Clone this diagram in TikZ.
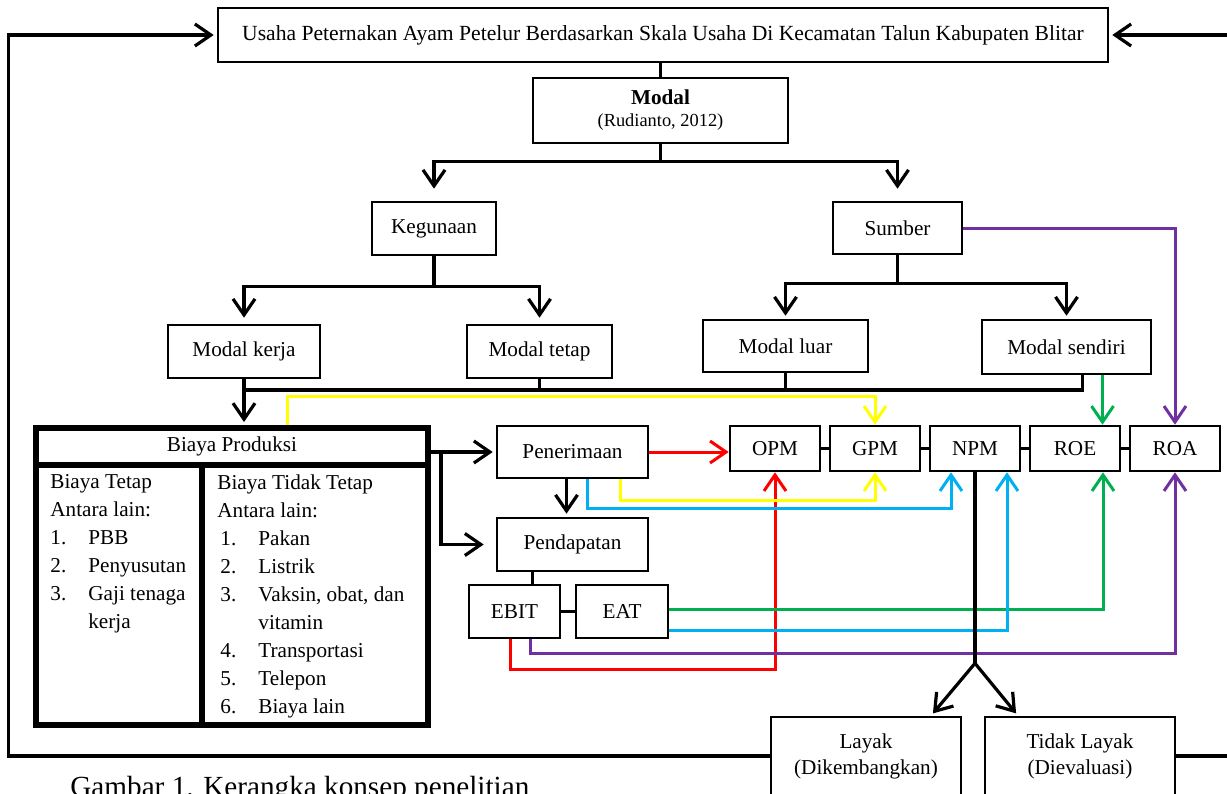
\documentclass[tikz,border=0pt]{standalone}
\usepackage{fontspec}
\setmainfont{Liberation Serif}
\usetikzlibrary{positioning,arrows.meta}
\definecolor{kred}{RGB}{255,0,0}
\definecolor{kyellow}{RGB}{255,255,0}
\definecolor{kblue}{RGB}{0,176,240}
\definecolor{kgreen}{RGB}{0,176,80}
\definecolor{kpurple}{RGB}{112,48,160}

\begin{document}
\begin{tikzpicture}[
    x=0.5pt, y=-0.5pt,
    font=\fontsize{10.6}{13}\selectfont,
    box/.style={rectangle, draw=black, line width=1.3pt, align=center,
                minimum width=#1, inner sep=2pt},
    box/.default=60pt,
    tbl/.style={rectangle, draw=black, line width=3pt, inner sep=0pt},
    coltext/.style={anchor=north west, align=left, inner sep=0pt,
                    font=\fontsize{10.6}{14}\selectfont},
    line/.style={draw=black, line width=1.6pt},
    arr/.style={line, -{Straight Barb[length=8pt,width=11pt]}, shorten >=1.5pt},
    clr/.style={draw=#1, line width=1.5pt, -{Straight Barb[length=8pt,width=11pt]}}
]
\useasboundingbox (0,0) rectangle (1227,793);

% Top and Modal
\node[box=445pt, minimum height=27pt, font=\fontsize{10.8}{13}\selectfont] (usaha) at (663,35)
    {Usaha Peternakan Ayam Petelur Berdasarkan Skala Usaha Di Kecamatan Talun Kabupaten Blitar};
\node[box=127.5pt, minimum height=32.5pt] (modal) at (660.5,110.5)
    {\textbf{Modal}\\[-2pt]{\fontsize{9.2}{11}\selectfont (Rudianto, 2012)}};

% Kegunaan / Sumber
\node[box=62pt, minimum height=26.5pt] (guna) at (434,228.5) {Kegunaan};
\node[box=64.5pt, minimum height=26pt] (sumber) at (897.5,228) {Sumber};
\node[box=76pt, minimum height=26.5pt] (mkerja) at (244,351.5) {Modal kerja};
\node[box=72.5pt, minimum height=26.5pt] (mtetap) at (539.5,351.5) {Modal tetap};
\node[box=82.5pt, minimum height=26pt] (mluar) at (785.5,346) {Modal luar};
\node[box=84.5pt, minimum height=27pt] (msendiri) at (1066.5,347) {Modal sendiri};

% Biaya Produksi
\node[tbl, minimum width=196pt, minimum height=18.5pt] (bp) at (232,446.5) {Biaya Produksi};
\node[tbl, minimum width=83pt, minimum height=130pt] (btetap) at (119,595) {};
\node[tbl, minimum width=113pt, minimum height=130pt] (btidak) at (315,595) {};
\node[coltext] (ttetap) at (50,474)
    {Biaya Tetap\\Antara lain:\\\makebox[19pt][l]{1.}PBB\\\makebox[19pt][l]{2.}Penyusutan\\
     \makebox[19pt][l]{3.}Gaji tenaga\\\hspace*{19pt}kerja};
\node[coltext] (ttidak) at (217,474)
    {Biaya Tidak Tetap\\Antara lain:\\\hspace*{1.5pt}\makebox[19pt][l]{1.}Pakan\\
     \hspace*{1.5pt}\makebox[19pt][l]{2.}Listrik\\\hspace*{1.5pt}\makebox[19pt][l]{3.}Vaksin, obat, dan\\
     \hspace*{20.5pt}vitamin\\\hspace*{1.5pt}\makebox[19pt][l]{4.}Transportasi\\
     \hspace*{1.5pt}\makebox[19pt][l]{5.}Telepon\\\hspace*{1.5pt}\makebox[19pt][l]{6.}Biaya lain};

% Penerimaan / Pendapatan
\node[box=75.5pt, minimum height=26pt] (terima) at (572.5,452) {Penerimaan};
\node[box=75.5pt, minimum height=26.5pt] (dapat) at (572.5,544.5) {Pendapatan};
\node[box=45.5pt, minimum height=26.5pt] (ebit) at (514.5,611.5) {EBIT};
\node[box=46pt, minimum height=26.5pt] (eat) at (622,611.5) {EAT};

% Rasio
\node[box=45pt, minimum height=22.5pt] (opm) at (775,448.5) {OPM};
\node[box=45pt, minimum height=22.5pt, right=3.7pt of opm] (gpm) {GPM};
\node[box=45pt, minimum height=22.5pt, right=3.7pt of gpm] (npm) {NPM};
\node[box=45pt, minimum height=22.5pt, right=3.7pt of npm] (roe) {ROE};
\node[box=45pt, minimum height=22.5pt, right=3.7pt of roe] (roa) {ROA};

% Keputusan
\node[box=95pt, minimum height=39pt] (layak) at (866,756) {Layak\\(Dikembangkan)};
\node[box=95pt, minimum height=39pt] (tlayak) at (1080,756) {Tidak Layak\\(Dievaluasi)};

% caption
\node[anchor=base west, inner sep=0pt, font=\fontsize{14.6}{16}\selectfont] (capt) at (70,796)
    {Gambar 1. Kerangka konsep penelitian};

% black connectors
\draw[line] (modal.north |- usaha.south) -- (modal.north);
\draw[arr, shorten >=6pt] (modal.south) -- ++(0,17) -| (guna.north);
\draw[arr, shorten >=6pt] (modal.south) -- ++(0,17) -| (sumber.north);
\draw[arr, shorten >=3pt] (guna.south) -- ++(0,30) -| (mkerja.north);
\draw[arr, shorten >=3pt] (guna.south) -- ++(0,30) -| (mtetap.north);
\draw[arr] (sumber.south) -- ++(0,28) -| (mluar.north);
\draw[arr] (sumber.south) -- ++(0,28) -| (msendiri.north);
\coordinate (bus) at (0,390);
\draw[line] (mtetap.south) -- (mtetap.south |- bus);
\draw[line] (mluar.south) -- (mluar.south |- bus);
\draw[line] ([xshift=8pt]msendiri.south) |- (mkerja.south |- bus);
\draw[arr] (mkerja.south) -- (mkerja.south |- bp.north);
\draw[arr] (bp.east |- terima.west) -- (terima.west);
\draw[arr, shorten >=6pt] (bp.east |- terima.west) -- ++(10,0) |- (dapat.west);
\draw[arr] ([xshift=-3pt]terima.south) -- ([xshift=-3pt]dapat.north);
\draw[line] ([xshift=9pt]dapat.south -| ebit.north) -- ([xshift=9pt]ebit.north);
\draw[line] (ebit.east) -- (eat.west);
\draw[line] (opm.east) -- (gpm.west);
\draw[line] (gpm.east) -- (npm.west);
\draw[line] (npm.east) -- (roe.west);
\draw[line] (roe.east) -- (roa.west);

% warna
\draw[clr=kyellow] ([xshift=27.5pt]bp.north) -- ++(0,-29) -| (gpm.north);
\draw[clr=kgreen] ([xshift=18pt]msendiri.south) -- ([xshift=18pt]msendiri.south |- roe.north);
\draw[clr=kpurple] (sumber.east) -| (roa.north);
\draw[clr=kred] (terima.east) -- (terima.east -| opm.west);
\draw[clr=kred] ([xshift=-2pt]ebit.south) -- ++(0,30) -| (opm.south);
\draw[clr=kyellow] ([xshift=24pt]terima.south) -- ++(0,21) -| (gpm.south);
\draw[clr=kblue] ([xshift=7.5pt]terima.south) -- ++(0,29) -| ([xshift=-12pt]npm.south);
\draw[clr=kgreen] ([yshift=1.25pt]eat.east) -| ([xshift=14pt]roe.south);
\draw[clr=kblue] ([yshift=-9.25pt]eat.east) -| ([xshift=16pt]npm.south);
\draw[clr=kpurple] ([xshift=8pt]ebit.south) -- ++(0,14) -| (roa.south);

% NPM ke keputusan
\draw[line] (npm.south) -- ++(0,191) coordinate (split);
\draw[arr] (split) -- ([xshift=32.5pt]layak.north);
\draw[arr] (split) -- ([xshift=-31pt]tlayak.north);

% umpan balik
\draw[arr] (layak.west) -- ++(-761,0) |- (usaha.west);
\draw[arr] (tlayak.east) -- ++(70,0) |- (usaha.east);
\end{tikzpicture}
\end{document}
